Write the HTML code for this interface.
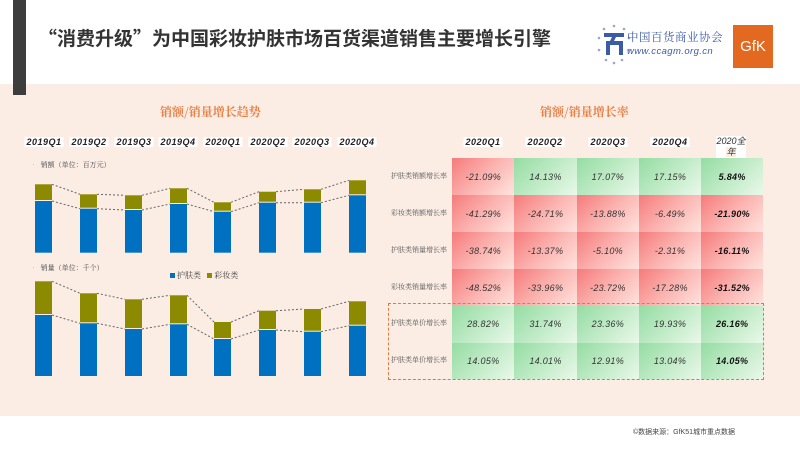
<!DOCTYPE html>
<html><head><meta charset="utf-8"><style>
*{margin:0;padding:0;box-sizing:border-box}
body{width:800px;height:450px;background:#fff;position:relative;overflow:hidden;font-family:"Liberation Sans","Noto Sans CJK SC",sans-serif}
.abs{position:absolute}
.peach{left:0;top:84px;width:800px;height:332px;background:#fbede4}
.bar{left:13px;top:0;width:13px;height:95px;background:#3d3d3d}
.title{left:38px;top:24px;font-size:19px;font-weight:bold;color:#333;white-space:nowrap;font-family:"Noto Sans CJK SC",sans-serif}
.sub{font-size:12px;font-weight:bold;color:#e8824a;font-family:"Noto Serif CJK SC",serif;white-space:nowrap}
.q{font-size:9px;color:#222;font-style:italic;font-weight:bold;background:#fff;padding:0 2px;transform:translateX(-50%);white-space:nowrap;letter-spacing:0.5px}
.cell{display:flex;align-items:center;justify-content:center;font-size:9px;color:#333;font-style:italic;letter-spacing:0.3px}
.r{background:linear-gradient(135deg,#f57b7b 0%,#fbb3b0 50%,#ffe3de 100%)}
.g{background:linear-gradient(135deg,#95dca3 0%,#c3ecc9 55%,#eaf8ea 100%)}
.lbl{font-size:7px;color:#555;font-family:"Noto Serif CJK SC",serif;white-space:nowrap}
.sm{font-size:7px;color:#444;font-family:"Noto Serif CJK SC",serif;white-space:nowrap}
</style></head><body>
<div class="abs peach"></div>
<div class="abs bar"></div>
<div class="abs title">“消费升级”为中国彩妆护肤市场百货渠道销售主要增长引擎</div>
<svg class="abs" style="left:594px;top:22px" width="40" height="46" viewBox="0 0 40 46">
<g fill="#9aa6c8"><circle cx="20" cy="4" r="1.3"/><circle cx="10" cy="7" r="1.3"/><circle cx="30" cy="7" r="1.3"/><circle cx="5" cy="16" r="1.3"/><circle cx="35" cy="16" r="1.3"/><circle cx="5" cy="28" r="1.3"/><circle cx="35" cy="28" r="1.3"/><circle cx="12" cy="38" r="1.3"/><circle cx="28" cy="38" r="1.3"/><circle cx="20" cy="41" r="1.3"/></g>
<path d="M10 11h20v4h-8l-2 4h9v14h-4v-10h-9v10h-4V19h4l2-4h-8z" fill="#3b5aa8"/>
</svg>
<div class="abs" style="left:627px;top:29px;font-size:11.5px;color:#3b5aa8;font-family:'Noto Serif CJK SC',serif;letter-spacing:0.5px;white-space:nowrap">中国百货商业协会</div>
<div class="abs" style="left:627px;top:46px;font-size:9.5px;color:#3b5aa8;font-style:italic;white-space:nowrap;letter-spacing:0.4px">www.ccagm.org.cn</div>
<div class="abs" style="left:733px;top:25px;width:40px;height:43px;background:#e2691f;color:#fff;font-size:15px;display:flex;align-items:center;justify-content:center">GfK</div>

<div class="abs sub" style="left:160px;top:103px">销额/销量增长趋势</div>
<div class="abs sub" style="left:540px;top:103px">销额/销量增长率</div>

<div class="abs q" style="left:44px;top:137px">2019Q1</div>
<div class="abs q" style="left:89px;top:137px">2019Q2</div>
<div class="abs q" style="left:134px;top:137px">2019Q3</div>
<div class="abs q" style="left:178px;top:137px">2019Q4</div>
<div class="abs q" style="left:223px;top:137px">2020Q1</div>
<div class="abs q" style="left:268px;top:137px">2020Q2</div>
<div class="abs q" style="left:312px;top:137px">2020Q3</div>
<div class="abs q" style="left:357px;top:137px">2020Q4</div>

<div class="abs sm" style="left:30px;top:160px"><span style="color:#e8824a">•</span>&nbsp;&nbsp;销额（单位：百万元）</div>
<div class="abs sm" style="left:30px;top:263px"><span style="color:#e8824a">•</span>&nbsp;&nbsp;销量（单位：千个）</div>
<div class="abs sm" style="left:170px;top:270px;font-size:8px"><span style="display:inline-block;width:5px;height:5px;background:#0070c0"></span> 护肤类&nbsp;&nbsp;&nbsp;<span style="display:inline-block;width:5px;height:5px;background:#8c8a00"></span> 彩妆类</div>

<div id="chart"></div>
<script>
var xs=[35,80,125,170,214,259,304,349],w=17;
var c1=[[184.3,201],[194.3,208.7],[195.3,210],[188.3,204],[202.3,211.7],[191.7,202.7],[189.3,202.7],[180.3,195.3]];
var c2=[[281.3,315],[293.3,323.3],[299.3,329],[295.3,324.3],[322,339],[310.7,330],[309,331.7],[301.3,325.7]];
var s='<svg class="abs" style="left:0;top:0" width="400" height="420">';
function draw(d,b){for(var i=0;i<8;i++){var x=xs[i];
s+='<rect x="'+x+'" y="'+d[i][1]+'" width="'+w+'" height="'+(b-d[i][1])+'" fill="#0070c0"/>';
s+='<rect x="'+x+'" y="'+d[i][0]+'" width="'+w+'" height="'+(d[i][1]-d[i][0]-1)+'" fill="#8c8a00"/>';
if(i<7){for(var k=0;k<2;k++)s+='<line x1="'+(x+w)+'" y1="'+d[i][k]+'" x2="'+xs[i+1]+'" y2="'+d[i+1][k]+'" stroke="#666" stroke-width="1" stroke-dasharray="2,2"/>';}}}
draw(c1,252.7);draw(c2,376);
s+='</svg>';
document.getElementById('chart').innerHTML=s;
</script>

<div class="abs q" style="left:483px;top:137px;background:#fff">2020Q1</div>
<div class="abs q" style="left:545px;top:137px;background:#fff">2020Q2</div>
<div class="abs q" style="left:608px;top:137px;background:#fff">2020Q3</div>
<div class="abs q" style="left:670px;top:137px;background:#fff">2020Q4</div>
<div class="abs" style="left:716px;top:136px;width:30px;font-size:9px;line-height:11px;text-align:center;color:#333;background:#fff;font-style:italic">2020全<br><span style="background:#fbede4">年</span></div>
<div id="tb"></div>
<script>
var cols=[452.3,514.3,576.7,639,701,763.3],rows=[158.3,195,232.3,269.3,306,342.7,379.3];
var lab=['护肤类销额增长率','彩妆类销额增长率','护肤类销量增长率','彩妆类销量增长率','护肤类单价增长率','护肤类单价增长率'];
var v=[['-21.09%','14.13%','17.07%','17.15%','5.84%'],['-41.29%','-24.71%','-13.88%','-6.49%','-21.90%'],['-38.74%','-13.37%','-5.10%','-2.31%','-16.11%'],['-48.52%','-33.96%','-23.72%','-17.28%','-31.52%'],['28.82%','31.74%','23.36%','19.93%','26.16%'],['14.05%','14.01%','12.91%','13.04%','14.05%']];
var h='';
for(var r=0;r<6;r++){h+='<div class="abs lbl" style="left:391px;top:'+(rows[r]+(rows[r+1]-rows[r])/2-6)+'px">'+lab[r]+'</div>';
for(var c=0;c<5;c++){var t=v[r][c];var cl=t[0]=='-'?'r':'g';
h+='<div class="abs cell '+cl+'" style="left:'+cols[c]+'px;top:'+rows[r]+'px;width:'+(cols[c+1]-cols[c])+'px;height:'+(rows[r+1]-rows[r])+'px;'+(c==4?'font-weight:bold;color:#111':'')+'">'+t+'</div>';}}
h+='<div class="abs" style="left:388px;top:302.7px;width:376px;height:77px;border:1.5px dashed #e07a3a"></div>';
document.getElementById('tb').innerHTML=h;
</script>
<div class="abs" style="left:633px;top:427px;font-size:7px;color:#444;white-space:nowrap">©数据来源：GfK51城市重点数据</div>
</body></html>
